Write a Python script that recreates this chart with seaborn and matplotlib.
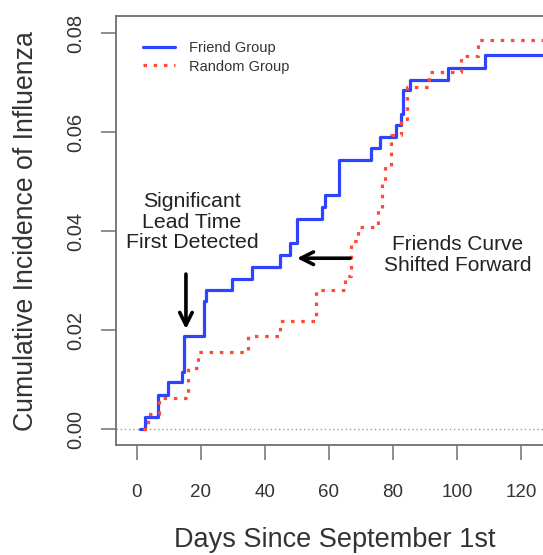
import matplotlib
matplotlib.use("Agg")
import matplotlib.pyplot as plt
import seaborn as sns
import pandas as pd

# ---- data ----
friend_days = [0.9, 2.5, 6.5, 9.8, 14.0, 14.7, 20.8, 21.7, 29.6, 35.8, 44.7, 47.8,
               49.9, 57.7, 58.7, 63.2, 73.0, 76.0, 81.1, 82.4, 83.2, 85.3, 97.3,
               108.7, 127.0]
friend_inc = [0.0, 0.0025, 0.0069, 0.0094, 0.0116, 0.0188, 0.0258, 0.0281, 0.0304,
              0.0328, 0.0352, 0.0375, 0.0424, 0.0448, 0.0472, 0.0543, 0.0567,
              0.0590, 0.0614, 0.0636, 0.0685, 0.0706, 0.0730, 0.0756, 0.0756]
random_days = [2.0, 3.5, 6.8, 16.0, 19.2, 34.8, 44.7, 56.1, 65.0, 67.0, 69.0, 75.2,
               76.5, 77.6, 79.4, 82.6, 84.3, 91.4, 101.2, 106.6, 127.0]
random_inc = [0.0, 0.0031, 0.0062, 0.0123, 0.0156, 0.0187, 0.0218, 0.0281, 0.0310,
              0.0380, 0.0408, 0.0442, 0.0497, 0.0532, 0.0594, 0.0627, 0.0691,
              0.0722, 0.0754, 0.0785, 0.0785]
group_names = ["Friend Group", "Random Group"]
x_ticks = [0, 20, 40, 60, 80, 100, 120]
y_ticks = [0.00, 0.02, 0.04, 0.06, 0.08]
y_tick_labels = ["0.00", "0.02", "0.04", "0.06", "0.08"]

df = pd.concat([
    pd.DataFrame({"day": friend_days, "inc": friend_inc, "group": group_names[0]}),
    pd.DataFrame({"day": random_days, "inc": random_inc, "group": group_names[1]}),
], ignore_index=True)

sns.set_style("white")
plt.rcParams["font.family"] = ["Liberation Sans", "DejaVu Sans"]

W, H = 543, 555
fig = plt.figure(figsize=(W / 100, H / 100), dpi=100)
ax = fig.add_axes([116 / W, 1 - 445 / H, 1 - 116 / W, (445 - 16) / H])

# zero reference line
ax.axhline(0, color="#9a9a9a", lw=1.0, ls=(0, (1, 2)), zorder=1)

palette = {"Friend Group": "#2e43ff", "Random Group": "#ff4a36"}
dashes = {"Friend Group": "", "Random Group": (1.1, 2.1)}
sns.lineplot(data=df, x="day", y="inc", hue="group", style="group",
             palette=palette, dashes=dashes, estimator=None, sort=False,
             drawstyle="steps-post", lw=2.3, ax=ax, zorder=3)
for ln in ax.lines[1:]:
    ln.set_dash_capstyle("butt")

ax.set_xlim(-6.56, 126.9)
ax.set_ylim(-0.00323, 0.08343)
ax.set_xticks(x_ticks)
ax.set_yticks(y_ticks)
ax.set_yticklabels(y_tick_labels, rotation=90, va="center")
ax.tick_params(axis="both", direction="out", length=11, width=1.1,
               color="#707070", labelcolor="#333333")
ax.tick_params(axis="x", pad=17, labelsize=13.5)
ax.tick_params(axis="y", pad=11, labelsize=14.5)
ax.tick_params(left=True, bottom=True)
for s in ["left", "top", "bottom"]:
    ax.spines[s].set_color("#707070")
    ax.spines[s].set_linewidth(1.3)
ax.spines["right"].set_visible(False)
ax.set_xlabel("")
ax.set_ylabel("")

fig.text(335 / W, 1 - 547 / H, "Days Since September 1st", ha="center",
         va="baseline", fontsize=19.5, color="#333333")
fig.text(26 / W, 1 - 231 / H, "Cumulative Incidence of Influenza", ha="center",
         va="center", rotation=90, fontsize=19.2, color="#333333")

leg = ax.legend(loc="upper left", bbox_to_anchor=(0.05, 0.955), frameon=False,
                fontsize=10.5, handlelength=2.2, handletextpad=0.95,
                labelspacing=0.3, borderaxespad=0)
for t in leg.get_texts():
    t.set_color("#333333")

# annotations
ax.text(17.2, 0.0418, "Significant\nLead Time\nFirst Detected", ha="center",
        va="center", fontsize=15.3, linespacing=1.12, color="#222222")
ax.text(100.2, 0.0352, "Friends Curve\nShifted Forward", ha="center",
        va="center", fontsize=15, linespacing=1.12, color="#222222")
ap = dict(arrowstyle="->,head_length=0.9,head_width=0.45", lw=2.6, color="black",
          shrinkA=0, shrinkB=0)
ax.annotate("", xy=(15.3, 0.0202), xytext=(15.3, 0.0313), arrowprops=ap)
ax.annotate("", xy=(50.0, 0.0345), xytext=(66.6, 0.0345), arrowprops=ap)

fig.savefig("out.png", dpi=100)
